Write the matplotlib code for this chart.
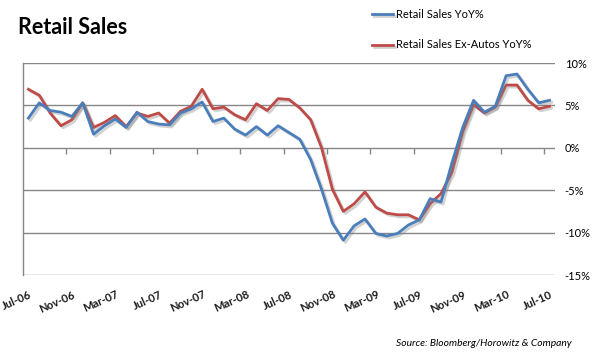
import numpy as np
import matplotlib
matplotlib.use("Agg")
import matplotlib.pyplot as plt
import matplotlib.patheffects as pe

plt.rcParams['font.family'] = ['Lato', 'DejaVu Sans']

# monthly, Jul-06 .. Jul-10
retail_yoy = [3.5, 5.3, 4.4, 4.2, 3.7, 5.3, 1.6, 2.6, 3.4, 2.4,
              4.2, 3.1, 2.8, 2.7, 4.1, 4.6, 5.4, 3.1, 3.5, 2.2,
              1.5, 2.5, 1.5, 2.6, 1.8, 1.0, -1.4, -4.9, -8.9, -10.9,
              -9.2, -8.4, -10.1, -10.4, -10.1, -9.1, -8.5, -6.0, -6.4, -1.8,
              2.4, 5.6, 4.2, 4.9, 8.5, 8.7, 6.9, 5.3, 5.6]
ex_autos_yoy = [6.9, 6.2, 4.1, 2.6, 3.3, 5.3, 2.4, 3.0, 3.8, 2.5,
                4.1, 3.7, 4.1, 2.9, 4.3, 4.9, 6.9, 4.6, 4.8, 3.9,
                3.3, 5.2, 4.4, 5.8, 5.7, 4.7, 3.3, 0.0, -4.9, -7.5,
                -6.6, -5.2, -7.0, -7.7, -7.9, -7.9, -8.5, -6.6, -5.4, -2.9,
                1.9, 5.1, 4.1, 4.8, 7.4, 7.4, 5.6, 4.6, 4.9]
month_labels = ['Jul-06', 'Nov-06', 'Mar-07', 'Jul-07', 'Nov-07', 'Mar-08', 'Jul-08',
                'Nov-08', 'Mar-09', 'Jul-09', 'Nov-09', 'Mar-10', 'Jul-10']
y_ticks = [-15, -10, -5, 0, 5, 10]

blue = '#4A7EBB'
red = '#BE4B48'
grid_gray = '#868686'

fig = plt.figure(figsize=(5.99, 3.55), dpi=100)
ax = fig.add_axes([23 / 599, 1 - 275 / 355, 532 / 599, 212 / 355])

n = len(retail_yoy)
x = np.arange(n)
shadow = [pe.SimpleLineShadow(offset=(1.5, -1.5), shadow_color='#808080', alpha=0.35), pe.Normal()]

l1, = ax.plot(x, retail_yoy, color=blue, lw=2.0, path_effects=shadow, zorder=4,
              label='Retail Sales YoY%')
l2, = ax.plot(x, ex_autos_yoy, color=red, lw=2.0, path_effects=shadow, zorder=3,
              label='Retail Sales Ex-Autos YoY%')

ax.set_xlim(-0.5, n - 0.5)
ax.set_ylim(-15, 10)

# y axis on the right, gridlines
ax.yaxis.tick_right()
ax.set_yticks(y_ticks)
ax.set_yticklabels([f'{v}%' for v in y_ticks])
ax.tick_params(axis='y', length=0, pad=7, labelsize=8, labelcolor='black')
ax.grid(axis='y', color=grid_gray, lw=1)
ax.set_axisbelow(True)
for s in ['top', 'right', 'bottom']:
    ax.spines[s].set_visible(False)
ax.spines['left'].set_color(grid_gray)
ax.spines['left'].set_linewidth(1)

# category labels every 4 months
label_idx = np.arange(0, n, 4)
ax.set_xticks(label_idx + 0.05)
ax.set_xticklabels(month_labels, rotation=24, ha='right', va='top',
                   rotation_mode='anchor', fontsize=8, fontweight='bold', color='#1a1a1a')
ax.tick_params(axis='x', length=0, pad=10)

# tick marks on the zero line between categories
sec = ax.secondary_xaxis(0.6)
sec.set_xticks(label_idx[1:] - 0.5)
sec.set_xticklabels([])
sec.tick_params(axis='x', direction='out', length=4, color=grid_gray, width=1)
sec.xaxis.set_ticks_position('bottom')
for s in sec.spines.values():
    s.set_visible(False)

fig.text(18 / 599, 1 - 27 / 355, 'Retail Sales', fontsize=15.5, fontweight='bold', va='center')
fig.legend(handles=[l1, l2], loc='upper left', bbox_to_anchor=(372 / 599, 1 - 9 / 355),
           frameon=False, fontsize=8, handlelength=1.9, handletextpad=0.25,
           labelspacing=1.75, borderpad=0, borderaxespad=0)
fig.text(572 / 599, 1 - 343 / 355, 'Source: Bloomberg/Horowitz & Company',
         ha='right', va='center', style='italic', fontsize=7.4)

fig.savefig('out.png', dpi=100)
